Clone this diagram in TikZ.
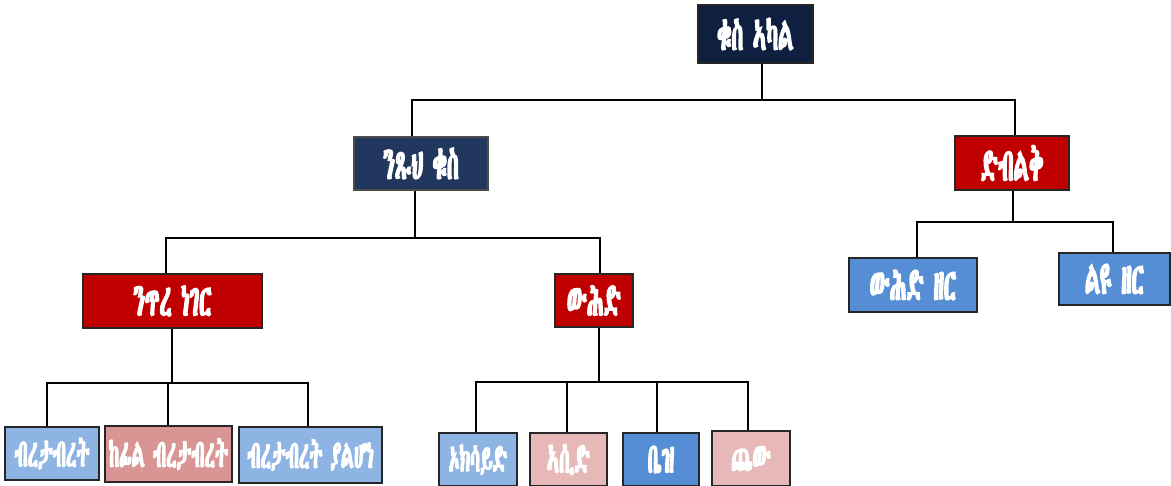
\documentclass[tikz,border=0pt]{standalone}
\usepackage{fontspec}
\IfFontExistsTF{Abyssinica SIL}
  {\newfontfamily\eth{Abyssinica SIL}[AutoFakeBold=3,FakeStretch=0.46]}
  {\IfFontExistsTF{FreeSerif}
     {\newfontfamily\eth{FreeSerif}[AutoFakeBold=3,FakeStretch=0.46]}
     {\IfFontExistsTF{FreeSans}{\newfontfamily\eth{FreeSans}[AutoFakeBold=3,FakeStretch=0.46]}{\newfontfamily\eth{DejaVu Sans}}}}
\definecolor{navy}{HTML}{0F1F3F}
\definecolor{navyb}{HTML}{22375E}
\definecolor{darkred}{HTML}{C00000}
\definecolor{midblue}{HTML}{558ED5}
\definecolor{lblue}{HTML}{8EB4E3}
\definecolor{dpink}{HTML}{D99594}
\definecolor{lpink}{HTML}{E6B9B8}
\tikzset{
  box/.style={draw=black!85, line width=1.8pt, text=white, inner sep=0pt, font=\eth\bfseries\fontsize{46}{50}\selectfont},
  small/.style={font=\eth\bfseries\fontsize{39}{43}\selectfont},
  mid/.style={font=\eth\bfseries\fontsize{42}{46}\selectfont},
  conn/.style={draw=black, line width=2.8pt},
}
\newcommand\bx[6]{% name, x1,y1,x2,y2, style
  \node[box,#6,minimum width={#4-#2},minimum height={#5-#3}] (#1) at ({(#2+#4)/2},{(#3+#5)/2}) }
\begin{document}
\begin{tikzpicture}[x=1pt,y=-1pt]
\useasboundingbox (0,0) rectangle (1171,486);
% nodes
\bx{top}{698}{5}{813}{63}{fill=navy} {ቁስ ኣካል};
\bx{pure}{354}{137}{488}{190}{fill=navyb,draw=black!70} {ንጹህ ቁስ};
\bx{mix}{955}{136}{1069}{190}{fill=darkred} {ድብልቅ};
\bx{elem}{83}{274}{262}{328}{fill=darkred} {ንጥረ ነገር};
\bx{comp}{555}{274}{633}{327}{fill=darkred} {ውሕድ};
\bx{hom}{849}{258}{977}{312}{fill=midblue} {ውሕድ ዘር};
\bx{het}{1059}{253}{1170}{305}{fill=midblue} {ልዩ ዘር};
\bx{met}{5}{427}{99}{480}{fill=lblue,small} {ብረታብረት};
\bx{semi}{105}{426}{232}{482}{fill=dpink,small} {ከፊል ብረታብረት};
\bx{nonmet}{239}{427}{382}{483}{fill=lblue,small} {ብረታብረት ያልሆነ};
\bx{oxide}{439}{433}{517}{486}{fill=lblue,small} {ኦክሳይድ};
\bx{acid}{530}{433}{607}{486}{fill=lpink,mid} {ኣሲድ};
\bx{base}{623}{433}{699}{486}{fill=midblue,mid} {ቤዝ};
\bx{salt}{712}{431}{790}{486}{fill=lpink,mid} {ጨው};
% junction coordinates
\coordinate (j0) at (762,100);
\coordinate (j0l) at (412,100);
\coordinate (j0r) at (1015,100);
\coordinate (j1) at (415,238);
\coordinate (j1l) at (166,238);
\coordinate (j1r) at (600,238);
\coordinate (j2) at (1013,222);
\coordinate (j2l) at (917,222);
\coordinate (j2r) at (1113,222);
\coordinate (j3) at (172,383);
\coordinate (j3a) at (47,383);
\coordinate (j3b) at (168,383);
\coordinate (j3c) at (308,383);
\coordinate (j4) at (599,382);
\coordinate (j4a) at (476,382);
\coordinate (j4b) at (567,382);
\coordinate (j4c) at (657,382);
\coordinate (j4d) at (748,382);
% connectors
\draw[conn] (j0 |- top.south) -- (j0);
\draw[conn] (j0l |- pure.north) -- (j0l) -- (j0r) -- (j0r |- mix.north);
\draw[conn] (j1 |- pure.south) -- (j1);
\draw[conn] (j1l |- elem.north) -- (j1l) -- (j1r) -- (j1r |- comp.north);
\draw[conn] (j2 |- mix.south) -- (j2);
\draw[conn] (j2l |- hom.north) -- (j2l) -- (j2r) -- (j2r |- het.north);
\draw[conn] (j3 |- elem.south) -- (j3);
\draw[conn] (j3a |- met.north) -- (j3a) -- (j3c) -- (j3c |- nonmet.north);
\draw[conn] (j3b) -- (j3b |- semi.north);
\draw[conn] (j4 |- comp.south) -- (j4);
\draw[conn] (j4a |- oxide.north) -- (j4a) -- (j4d) -- (j4d |- salt.north);
\draw[conn] (j4b) -- (j4b |- acid.north);
\draw[conn] (j4c) -- (j4c |- base.north);
\end{tikzpicture}
\end{document}
